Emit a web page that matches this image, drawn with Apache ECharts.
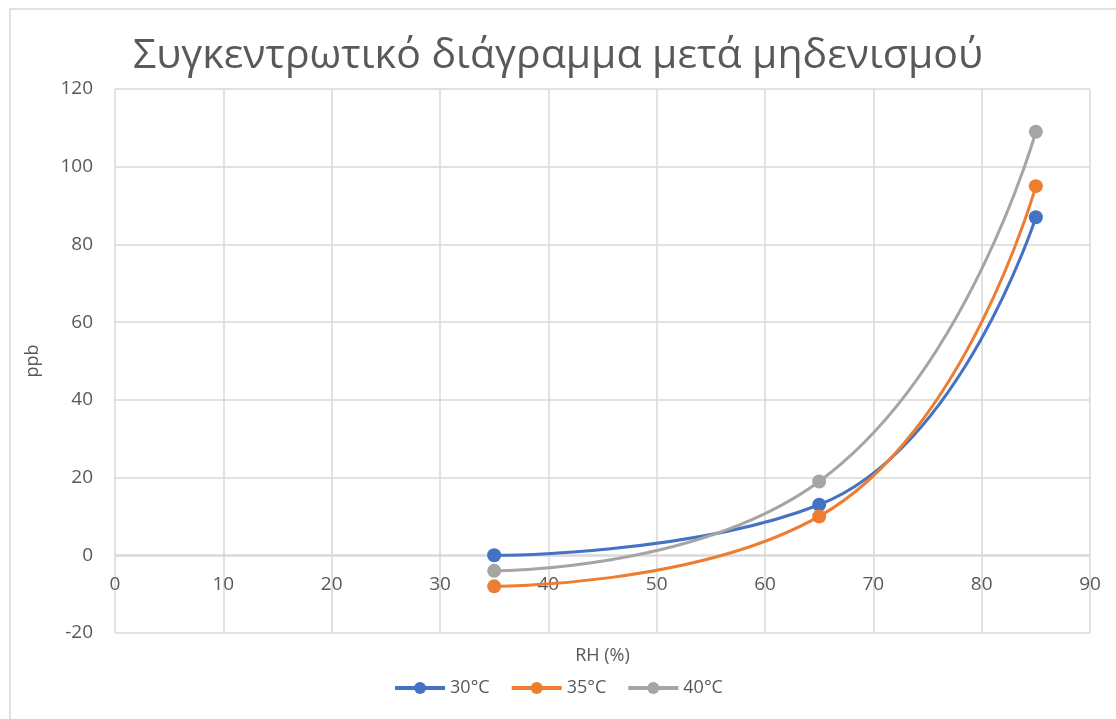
<!DOCTYPE html>
<html><head><meta charset="utf-8">
<script src="https://cdn.jsdelivr.net/npm/echarts@6/dist/echarts.min.js"></script>
<style>html,body{margin:0;padding:0;background:#fff}#c{width:1116px;height:719px}</style>
</head><body><div id="c"></div>
<script>
const rh = [35, 65, 85];
const s30 = [0, 13, 87];
const s35 = [-8, 10, 95];
const s40 = [-4, 19, 109];
const names = ['30°C', '35°C', '40°C'];
const colors = ['#4472C4', '#ED7D31', '#A5A5A5'];
const font = '"Open Sans", "Noto Sans", sans-serif';
const chart = echarts.init(document.getElementById('c'));
function mk(name, vals, color) {
  return {
    name: name, type: 'line', smooth: 0.5,
    data: rh.map((x, i) => [x, vals[i]]),
    symbol: 'circle', symbolSize: 14,
    lineStyle: {color: color, width: 3},
    itemStyle: {color: color},
    z: 3
  };
}
chart.setOption({
  animation: false,
  backgroundColor: '#fff',
  title: {text: 'Συγκεντρωτικό διάγραμμα μετά μηδενισμού', left: 'center', top: 31,
    textStyle: {fontFamily: font, fontSize: 41, fontWeight: 'normal', color: '#595959'}},
  graphic: [{type: 'rect', shape: {x: 10, y: 9, width: 1120, height: 720},
    style: {fill: 'none', stroke: '#D9D9D9', lineWidth: 1.5}, silent: true}],
  grid: {left: 115, right: 26, top: 89, bottom: 86, outerBoundsMode: 'none', containLabel: false},
  legend: {bottom: 17, left: 'center', itemWidth: 50, itemHeight: 15, itemGap: 20,
    lineStyle: {width: 4},
    textStyle: {fontFamily: font, fontSize: 18, color: '#595959'},
    data: names},
  xAxis: {type: 'value', min: 0, max: 90, interval: 10, offset: -78,
    name: 'RH (%)', nameLocation: 'middle', nameGap: 92,
    nameTextStyle: {fontFamily: font, fontSize: 18, color: '#595959'},
    axisLine: {show: true, onZero: false, lineStyle: {color: '#D9D9D9', width: 1.5}},
    axisTick: {show: false},
    axisLabel: {fontFamily: font, fontSize: 19, color: '#595959', margin: 20},
    splitLine: {show: true, lineStyle: {color: '#D9D9D9', width: 1.5}}},
  yAxis: {type: 'value', min: -20, max: 120, interval: 20,
    name: 'ppb', nameLocation: 'middle', nameGap: 73,
    nameTextStyle: {fontFamily: font, fontSize: 18, color: '#595959'},
    axisLine: {show: false}, axisTick: {show: false},
    axisLabel: {fontFamily: font, fontSize: 19, color: '#595959', margin: 22},
    splitLine: {show: true, lineStyle: {color: '#D9D9D9', width: 1.5}}},
  series: [mk(names[0], s30, colors[0]), mk(names[1], s35, colors[1]), mk(names[2], s40, colors[2])]
});
</script></body></html>
